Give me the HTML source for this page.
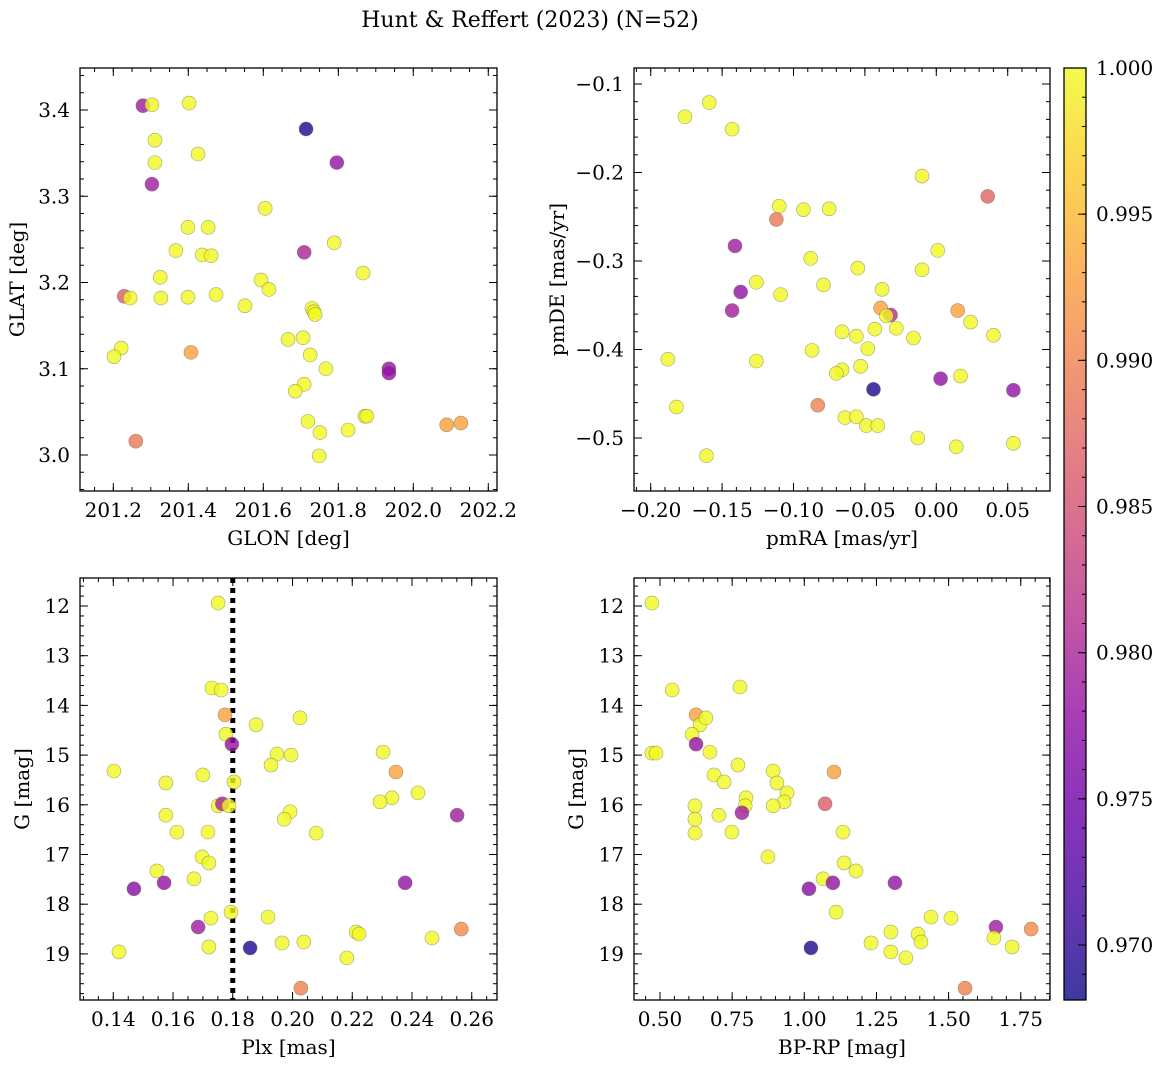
<!DOCTYPE html>
<html><head><meta charset="utf-8"><style>
html,body{margin:0;padding:0;background:#fff;}
svg text{font-family:"DejaVu Serif","Liberation Serif",serif;fill:#000;}
</style></head><body>
<svg id="fig" width="1161" height="1068" viewBox="0 0 1161 1068" xmlns="http://www.w3.org/2000/svg">
<defs>
<linearGradient id="plasma" x1="0" y1="1" x2="0" y2="0">
<stop offset="0" stop-color="#0d0887"/><stop offset="0.1" stop-color="#41049d"/><stop offset="0.2" stop-color="#6a00a8"/><stop offset="0.3" stop-color="#8f0da4"/><stop offset="0.4" stop-color="#b12a90"/><stop offset="0.5" stop-color="#cc4778"/><stop offset="0.6" stop-color="#e16462"/><stop offset="0.7" stop-color="#f2844b"/><stop offset="0.8" stop-color="#fca636"/><stop offset="0.9" stop-color="#fcce25"/><stop offset="1" stop-color="#f0f921"/>
</linearGradient>
</defs>
<text x="530" y="27" font-size="22" text-anchor="middle">Hunt &amp; Reffert (2023) (N=52)</text>
</svg>
<script>
// Panel 1: GLON vs GLAT
const p1x=[201.279,201.303,201.402,201.311,201.311,201.426,201.303,201.714,201.796,201.605,201.399,201.453,201.367,201.437,201.461,201.709,201.789,201.325,201.594,201.615,201.866,201.229,201.245,201.327,201.399,201.474,201.551,201.730,201.735,201.738,201.666,201.706,201.725,201.221,201.202,201.407,201.767,201.935,201.935,201.709,201.685,201.719,201.751,201.826,201.871,201.876,201.749,201.260,202.089,202.127];
const p1y=[3.405,3.406,3.408,3.365,3.339,3.349,3.314,3.378,3.339,3.286,3.264,3.264,3.237,3.232,3.231,3.235,3.246,3.206,3.203,3.192,3.211,3.184,3.182,3.182,3.183,3.186,3.173,3.170,3.166,3.163,3.134,3.136,3.116,3.124,3.114,3.119,3.100,3.100,3.095,3.082,3.074,3.039,3.026,3.029,3.045,3.045,2.999,3.016,3.035,3.037];
const p1c=[.979,1,1,1,1,1,.979,.969,.978,1,1,1,1,1,1,.980,1,1,1,1,1,.986,1,1,1,1,1,1,1,1,1,1,1,1,1,.993,1,.978,.978,1,1,1,1,1,1,1,1,.989,.993,.993];
// Panel 2: pmRA vs pmDE
const p2x=[-0.159,-0.176,-0.143,-0.010,0.036,-0.110,-0.093,-0.075,-0.112,-0.141,0.001,-0.088,-0.055,-0.010,-0.038,-0.079,-0.137,-0.126,-0.109,-0.143,-0.039,0.015,-0.032,-0.035,0.024,-0.028,-0.043,-0.066,-0.056,-0.016,0.040,-0.087,-0.048,-0.126,-0.188,-0.053,-0.066,-0.070,0.017,0.003,-0.044,0.054,-0.182,-0.083,-0.064,-0.056,-0.049,-0.041,-0.013,0.014,0.054,-0.161];
const p2y=[-0.121,-0.137,-0.151,-0.204,-0.227,-0.238,-0.242,-0.241,-0.253,-0.283,-0.288,-0.297,-0.308,-0.310,-0.332,-0.327,-0.335,-0.324,-0.338,-0.356,-0.353,-0.356,-0.361,-0.362,-0.369,-0.376,-0.377,-0.380,-0.385,-0.387,-0.384,-0.401,-0.399,-0.413,-0.411,-0.419,-0.423,-0.427,-0.430,-0.433,-0.445,-0.446,-0.465,-0.463,-0.477,-0.476,-0.486,-0.486,-0.500,-0.510,-0.506,-0.520];
const p2c=[1,1,1,1,.987,1,1,1,.989,.979,1,1,1,1,1,1,.978,1,1,.979,.993,.993,.981,1,1,1,1,1,1,1,1,1,1,1,1,1,1,1,1,.978,.969,.978,1,.990,1,1,1,1,1,1,1,1];
// Panel 3: Plx vs G
const p3x=[0.1751,0.1730,0.1761,0.1774,0.2025,0.1878,0.1777,0.1797,0.1402,0.1948,0.1995,0.1928,0.2303,0.2346,0.1700,0.1804,0.1576,0.2420,0.2333,0.2293,0.1751,0.1765,0.1787,0.1992,0.1972,0.1576,0.2551,0.1717,0.1613,0.2079,0.1697,0.1720,0.1546,0.1670,0.1570,0.2377,0.1469,0.1794,0.1727,0.1918,0.1684,0.2565,0.2213,0.2223,0.2467,0.2038,0.1965,0.1720,0.1858,0.1419,0.2182,0.2028];
const p3y=[11.94,13.65,13.69,14.19,14.25,14.39,14.58,14.78,15.32,14.98,15.00,15.20,14.94,15.34,15.40,15.54,15.56,15.76,15.86,15.94,16.02,15.98,16.02,16.14,16.29,16.21,16.21,16.55,16.55,16.57,17.05,17.17,17.33,17.49,17.57,17.57,17.69,18.16,18.28,18.26,18.46,18.50,18.56,18.60,18.68,18.76,18.78,18.86,18.88,18.96,19.08,19.69];
const p3c=[1,1,1,.993,1,1,1,.978,1,1,1,1,1,.993,1,1,1,1,1,1,1,.980,1,1,1,1,.979,1,1,1,1,1,1,1,.978,.978,.977,1,1,1,.979,.991,1,1,1,1,1,1,.969,1,1,.990];
const plxCut=[0.18];
// Panel 4: BP-RP vs G
const p4x=[0.472,0.542,0.777,0.472,0.486,0.625,0.639,0.659,0.611,0.625,0.673,0.770,0.687,0.722,0.892,0.905,1.103,0.940,0.798,0.930,0.795,0.892,1.072,0.621,0.784,0.621,0.704,0.621,0.749,1.134,0.874,1.138,1.179,1.065,1.099,1.314,1.016,1.110,1.439,1.508,1.664,1.786,1.300,1.394,1.657,1.231,1.404,1.720,1.023,1.300,1.352,1.557];
const p4y=[11.94,13.69,13.63,14.96,14.96,14.19,14.39,14.25,14.58,14.78,14.94,15.20,15.40,15.54,15.32,15.56,15.34,15.76,15.86,15.94,16.02,16.02,15.98,16.02,16.16,16.29,16.21,16.57,16.55,16.55,17.05,17.17,17.33,17.49,17.57,17.57,17.69,18.16,18.26,18.28,18.46,18.50,18.56,18.60,18.68,18.78,18.76,18.86,18.88,18.96,19.08,19.69];
const p4c=[1,1,1,1,1,.993,1,1,1,.978,1,1,1,1,1,1,.993,1,1,1,1,1,.986,1,.979,1,1,1,1,1,1,1,1,1,.978,.978,.977,1,1,1,.979,.991,1,1,1,1,1,1,.969,1,1,.990];
const cbTicks=[0.970,0.975,0.980,0.985,0.990,0.995,1.000];

const NS="http://www.w3.org/2000/svg";
const svg=document.getElementById('fig');
const CMIN=0.96812, CMAX=1.0;
const stops=[[13,8,135],[65,4,157],[106,0,168],[143,13,164],[177,42,144],[204,71,120],[225,100,98],[242,132,75],[252,166,54],[252,206,37],[240,249,33]];
function cmap(v){let t=(v-CMIN)/(CMAX-CMIN);t=Math.max(0,Math.min(1,t))*10;const i=Math.min(9,Math.floor(t)),f=t-i;const a=stops[i],b=stops[i+1];return 'rgb('+a.map((c,k)=>Math.round(c+(b[k]-c)*f)).join(',')+')';}
function mk(tag,attrs,parent){const e=document.createElementNS(NS,tag);for(const k in attrs)e.setAttribute(k,attrs[k]);(parent||svg).appendChild(e);return e;}
function fmt(v,d){let s=v.toFixed(d);return s.replace('-','\u2212');}
const FS=20;

function panel(o){
  const g=mk('g',{});
  
  
  const X=v=>o.L+(v-o.x0)/(o.x1-o.x0)*(o.R-o.L);
  const Y=v=>o.B-(v-o.y0)/(o.y1-o.y0)*(o.B-o.T);
  const tg=mk('g',{stroke:'#000','stroke-width':1},g);
  
  
  const eps=1e-9;
  function range(a,b,s){const r=[];let st=Math.ceil((Math.min(a,b)-eps)/s);for(let k=st;k*s<=Math.max(a,b)+eps;k++)r.push(k*s);return r;}
  range(o.x0,o.x1,o.xmin).forEach(v=>{const x=X(v);mk('line',{x1:x,x2:x,y1:o.B,y2:o.B-4},tg);mk('line',{x1:x,x2:x,y1:o.T,y2:o.T+4},tg);});
  range(o.y0,o.y1,o.ymin).forEach(v=>{const y=Y(v);mk('line',{x1:o.L,x2:o.L+4,y1:y,y2:y},tg);mk('line',{x1:o.R,x2:o.R-4,y1:y,y2:y},tg);});
  o.xt.forEach(v=>{const x=X(v);mk('line',{x1:x,x2:x,y1:o.B,y2:o.B-8},tg);mk('line',{x1:x,x2:x,y1:o.T,y2:o.T+8},tg);
    const t=mk('text',{x:x,y:o.B+26,'font-size':FS,'text-anchor':'middle'},g);t.textContent=fmt(v,o.xd);
    });
  o.yt.forEach(v=>{const y=Y(v);mk('line',{x1:o.L,x2:o.L+8,y1:y,y2:y},tg);mk('line',{x1:o.R,x2:o.R-8,y1:y,y2:y},tg);
    const t=mk('text',{x:o.L-10,y:y+7,'font-size':FS,'text-anchor':'end'},g);t.textContent=fmt(v,o.yd);
    });
  if(o.vline){o.vline.forEach(v=>{const l=mk('line',{x1:X(v),x2:X(v),y1:o.T,y2:o.B,stroke:'#000','stroke-width':5,'stroke-dasharray':'5,5'},g);
    });}
  const pg=mk('g',{},g);
  
  
  o.xs.forEach((v,i)=>{const c=mk('circle',{cx:X(v),cy:Y(o.ys[i]),r:7,fill:cmap(o.cs[i]),'fill-opacity':0.8,stroke:'#6a6a50','stroke-opacity':0.6,'stroke-width':0.6},pg);
    });
  const f=mk('rect',{x:o.L,y:o.T,width:o.R-o.L,height:o.B-o.T,fill:'none',stroke:'#000','stroke-width':1.3},g);
  
  const xl=mk('text',{x:(o.L+o.R)/2,y:o.B+54,'font-size':FS,'text-anchor':'middle'},g);xl.textContent=o.xlab;
  
  const yx=o.L-o.ylo, yy=(o.T+o.B)/2;
  const yl=mk('text',{x:yx,y:yy,'font-size':FS,'text-anchor':'middle',transform:'rotate(-90 '+yx+' '+yy+')'},g);yl.textContent=o.ylab;
  
}
panel({name:'glon-glat-panel',L:80,R:497,T:68,B:491,x0:201.2-33.3/375,x1:201.2+383.7/375,y0:3.0-36/862.5,y1:3.0+387/862.5,
  xt:[201.2,201.4,201.6,201.8,202.0,202.2],xd:1,xmin:0.05,yt:[3.0,3.1,3.2,3.3,3.4],yd:1,ymin:0.02,
  xs:p1x,ys:p1y,cs:p1c,xlab:'GLON [deg]',ylab:'GLAT [deg]',ylo:56});
panel({name:'pm-panel',L:634,R:1050,T:68,B:491,x0:(634-936.3)/1428,x1:(1050-936.3)/1428,y0:-0.5-53/885,y1:-0.1+16/885,
  xt:[-0.2,-0.15,-0.1,-0.05,0,0.05],xd:2,xmin:0.01,yt:[-0.5,-0.4,-0.3,-0.2,-0.1],yd:1,ymin:0.02,
  xs:p2x,ys:p2y,cs:p2c,xlab:'pmRA [mas/yr]',ylab:'pmDE [mas/yr]',ylo:70});
panel({name:'plx-g-panel',L:80,R:497,T:578,B:1000,x0:0.14-33.3/2987,x1:0.14+383.7/2987,y0:12+(1000-606)/49.7,y1:12+(578-606)/49.7,
  xt:[0.14,0.16,0.18,0.20,0.22,0.24,0.26],xd:2,xmin:0.005,yt:[12,13,14,15,16,17,18,19],yd:0,ymin:0.2,
  xs:p3x,ys:p3y,cs:p3c,vline:plxCut,xlab:'Plx [mas]',ylab:'G [mag]',ylo:51});
panel({name:'cmd-panel',L:634,R:1050,T:578,B:1000,x0:0.5-26/288.6,x1:0.5+390/288.6,y0:12+(1000-606)/49.7,y1:12+(578-606)/49.7,
  xt:[0.5,0.75,1.0,1.25,1.5,1.75],xd:2,xmin:0.05,yt:[12,13,14,15,16,17,18,19],yd:0,ymin:0.2,
  xs:p4x,ys:p4y,cs:p4c,xlab:'BP-RP [mag]',ylab:'G [mag]',ylo:51});
(function(){
  const L=1064,R=1086,T=68,B=1000;
  const g=mk('g',{});
  
  
  mk('rect',{x:L,y:T,width:R-L,height:B-T,fill:'url(#plasma)','fill-opacity':0.8},g);
  const Y=v=>B-(v-CMIN)/(CMAX-CMIN)*(B-T);
  for(let k=969;k<=1000;k++){const y=Y(k/1000);mk('line',{x1:R,x2:R-4,y1:y,y2:y,stroke:'#000'},g);}
  cbTicks.forEach(v=>{const y=Y(v);mk('line',{x1:R,x2:R-8,y1:y,y2:y,stroke:'#000'},g);
    const t=mk('text',{x:R+10,y:y+7,'font-size':FS},g);t.textContent=v.toFixed(3);
    });
  mk('rect',{x:L,y:T,width:R-L,height:B-T,fill:'none',stroke:'#000','stroke-width':1.3},g);
})();
</script>
</body></html>
